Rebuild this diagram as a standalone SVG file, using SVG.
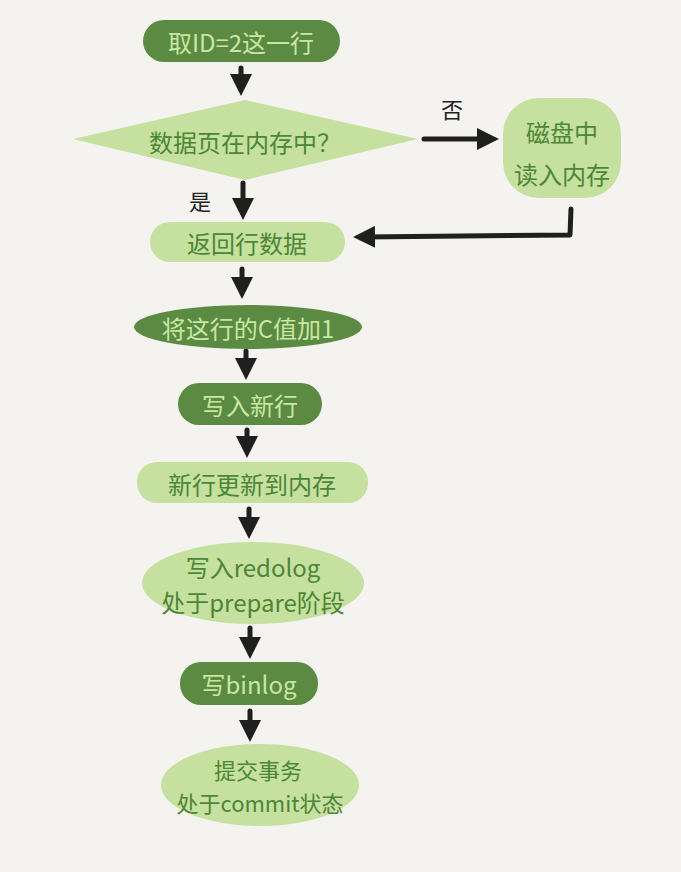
<svg xmlns="http://www.w3.org/2000/svg" width="681" height="872" viewBox="0 0 681 872">
<style>
.dark{fill:#5b8b42}
.light{fill:#c6e09f}
.tl{fill:#c9e7a2;font-family:"Noto Sans CJK SC","Noto Sans",sans-serif;font-size:24px;text-anchor:middle;dominant-baseline:central}
.td{fill:#4c8636;font-family:"Noto Sans CJK SC","Noto Sans",sans-serif;font-size:24px;text-anchor:middle;dominant-baseline:central}
.sm{font-size:22px}
.lbl{fill:#222;font-family:"Noto Sans CJK SC","Noto Sans",sans-serif;font-size:22px;text-anchor:middle;dominant-baseline:central}
.edge{stroke:#1f1f1f;stroke-width:5;fill:none;stroke-linecap:round;stroke-linejoin:round}
</style>
<defs>
<marker id="ah" viewBox="0 0 10 10" refX="5" refY="5" markerWidth="4.4" markerHeight="4.4" orient="auto" markerUnits="strokeWidth">
<path d="M0,0 L10,5 L0,10 z" fill="#1f1f1f"/>
</marker>
</defs>
<rect width="681" height="872" fill="#f4f3ef"/>
<g id="connectors">
<line class="edge" x1="241" y1="68" x2="241" y2="85" marker-end="url(#ah)"/>
<line class="edge" x1="424" y1="139" x2="488" y2="139" marker-end="url(#ah)"/>
<polyline class="edge" points="571,209 570,235 364,237" marker-end="url(#ah)"/>
<line class="edge" x1="243" y1="183" x2="243" y2="209" marker-end="url(#ah)"/>
<line class="edge" x1="242" y1="269" x2="242" y2="288" marker-end="url(#ah)"/>
<line class="edge" x1="246" y1="351" x2="246" y2="369" marker-end="url(#ah)"/>
<line class="edge" x1="247" y1="430" x2="247" y2="447" marker-end="url(#ah)"/>
<line class="edge" x1="249" y1="509" x2="249" y2="528" marker-end="url(#ah)"/>
<line class="edge" x1="250" y1="628" x2="250" y2="648" marker-end="url(#ah)"/>
<line class="edge" x1="250" y1="711" x2="250" y2="731" marker-end="url(#ah)"/>
</g>
<text class="lbl" x="452" y="108">否</text>
<text class="lbl" x="200" y="200">是</text>
<g id="n1">
<rect class="dark" x="143" y="20" width="197" height="42" rx="21"/>
<text class="tl" x="241" y="41">取ID=2这一行</text>
</g>
<g id="n2">
<polygon class="light" points="245,100 418,139 245,180 73,139"/>
<text class="td" x="245" y="141">数据页在内存中？</text>
</g>
<g id="n3">
<rect class="light" x="503" y="98" width="118" height="100" rx="36"/>
<text class="td" x="562" y="131">磁盘中</text>
<text class="td" x="562" y="173">读入内存</text>
</g>
<g id="n4">
<rect class="light" x="150" y="222" width="195" height="40" rx="20"/>
<text class="td" x="247" y="242">返回行数据</text>
</g>
<g id="n5">
<ellipse class="dark" cx="248" cy="327" rx="114" ry="22"/>
<text class="tl" x="248" y="327">将这行的C值加1</text>
</g>
<g id="n6">
<rect class="dark" x="178" y="383" width="144" height="42" rx="21"/>
<text class="tl" x="250" y="404">写入新行</text>
</g>
<g id="n7">
<rect class="light" x="137" y="462" width="231" height="41" rx="20"/>
<text class="td" x="252" y="483">新行更新到内存</text>
</g>
<g id="n8">
<ellipse class="light" cx="253" cy="583" rx="111" ry="41"/>
<text class="td" x="253" y="566">写入redolog</text>
<text class="td" x="253" y="601">处于prepare阶段</text>
</g>
<g id="n9">
<rect class="dark" x="180" y="662" width="138" height="43" rx="21"/>
<text class="tl" x="249" y="683">写binlog</text>
</g>
<g id="n10">
<ellipse class="light" cx="260" cy="785" rx="99" ry="41"/>
<text class="td sm" x="258" y="769">提交事务</text>
<text class="td sm" x="260" y="802">处于commit状态</text>
</g>
</svg>
